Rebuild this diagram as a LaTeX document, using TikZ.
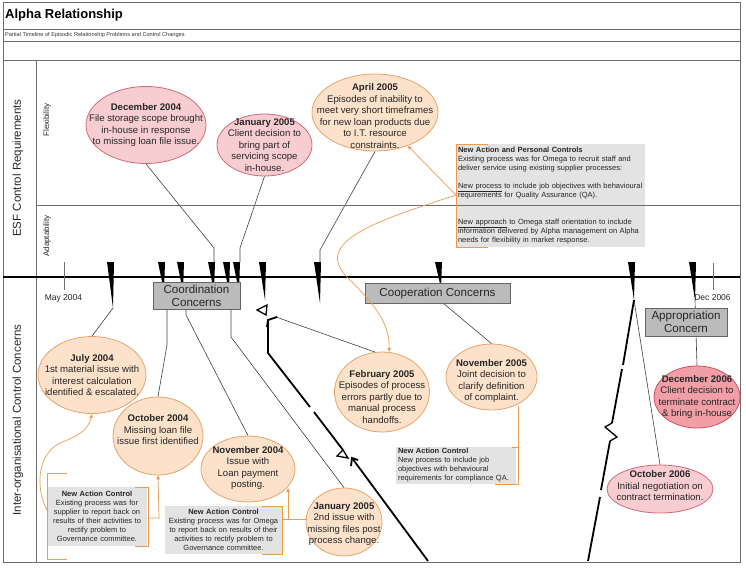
\documentclass[tikz,border=0pt]{standalone}
\usepackage{fontspec}
\setmainfont{Liberation Sans}
\usetikzlibrary{shapes.geometric,arrows.meta}
\definecolor{peachfill}{HTML}{FCE2CB}
\definecolor{peachline}{HTML}{E9A36A}
\definecolor{pinkfill}{HTML}{F7CDD1}
\definecolor{pinkline}{HTML}{D4687A}
\definecolor{redfill}{HTML}{F19EA7}
\definecolor{redline}{HTML}{CF4F62}
\definecolor{concgray}{HTML}{BBBBBB}
\definecolor{notegray}{HTML}{E3E3E3}
\definecolor{orangeln}{HTML}{EE9A4D}
\definecolor{framegray}{HTML}{6E6E6E}
\newcommand\wedgeat[3]{\fill (#1-4,262) -- (#1+3,262) -- (#1+2,#2) -- cycle; \coordinate (#3) at (#1+2,#2);}
\begin{document}
\begin{tikzpicture}[x=1pt,y=-1pt,
  ev/.style={ellipse,draw,line width=0.8pt,inner sep=0pt},
  peach/.style={ev,fill=peachfill,draw=peachline},
  pink/.style={ev,fill=pinkfill,draw=pinkline},
  red/.style={ev,fill=redfill,draw=redline},
  etext/.style={inner sep=0pt,align=center,font=\fontsize{9.6}{11.5}\selectfont,text=black!85},
  conc/.style={draw=black!60,line width=0.7pt,fill=concgray,inner sep=0pt,align=center,font=\fontsize{11.6}{13}\selectfont,text=black!85},
  note/.style={fill=notegray,inner xsep=2pt,inner ysep=0pt,font=\fontsize{7.5}{9}\selectfont,text=black!85},
  conn/.style={draw=black!75,line width=0.6pt},
  oconn/.style={draw=orangeln,line width=0.7pt},
  oarrow/.style={oconn,-{Triangle[length=4pt,width=3.5pt]}},
  brk/.style={line width=1.8pt,black},
  frame/.style={draw=framegray,line width=0.9pt},
  side/.style={rotate=90,inner sep=0pt,text=black!85},
]
\useasboundingbox (0,0) rectangle (746,568);
% frame and grid
\draw[frame] (3,2) rectangle (740,562);
\draw[frame] (3,29) -- (740,29);
\draw[frame] (3,41) -- (740,41);
\draw[frame] (3,60) -- (740,60);
\draw[frame] (36,60) -- (36,562);
\node[anchor=west,inner sep=0pt,font=\bfseries\fontsize{13}{15}\selectfont] (title) at (5,15) {Alpha Relationship};
\node[anchor=west,inner sep=0pt,font=\fontsize{5.6}{6}\selectfont,text=black!80] (subtitle) at (5,35) {Partial Timeline of Episodic Relationship Problems and Control Changes};
\node[side,font=\fontsize{11.5}{13}\selectfont] (esf) at (18,168) {ESF Control Requirements};
\node[side,font=\fontsize{11.5}{13}\selectfont] (ioc) at (18,420) {Inter-organisational Control Concerns};
\node[side,font=\fontsize{8}{9}\selectfont] (flex) at (47,120) {Flexibility};
\node[side,font=\fontsize{8}{9}\selectfont] (adap) at (47,236) {Adaptability};
% timeline
\draw[line width=1.8pt] (3,277) -- (740,277);
\draw[draw=black!55,line width=0.6pt] (64,262) -- (64,290);
\draw[draw=black!55,line width=0.6pt] (713,263) -- (713,290);
\node[inner sep=0pt,font=\fontsize{8.5}{10}\selectfont,text=black!85] (may) at (63.5,298) {May 2004};
\node[inner sep=0pt,font=\fontsize{8.5}{10}\selectfont,text=black!85] (dec) at (712.5,298) {Dec 2006};
% wedges
\wedgeat{111}{308}{w1}
\wedgeat{162}{292}{w2}
\wedgeat{181}{292}{w3}
\wedgeat{212}{292}{w4}
\wedgeat{227}{292}{w5}
\wedgeat{237}{292}{w6}
\wedgeat{263}{300}{w7}
\wedgeat{318}{303}{w8}
\wedgeat{439}{288}{w9}
\wedgeat{632}{300}{w10}
\wedgeat{693}{300}{w11}
% ellipses (shapes)
\node[pink,minimum width=120pt,minimum height=77pt] (e1) at (146,125) {};
\node[pink,minimum width=95pt,minimum height=62pt] (e2) at (264.5,145) {};
\node[peach,minimum width=126pt,minimum height=77pt] (e3) at (375,112.5) {};
\node[peach,minimum width=108pt,minimum height=77pt] (e4) at (92,375) {};
\node[peach,minimum width=90pt,minimum height=78pt] (e5) at (158,436) {};
\node[peach,minimum width=94pt,minimum height=66pt] (e6) at (248,469) {};
\node[peach,minimum width=76pt,minimum height=68pt] (e7) at (344,522) {};
\node[peach,minimum width=95pt,minimum height=80pt] (e8) at (382,392) {};
\node[peach,minimum width=91pt,minimum height=66pt] (e9) at (491.5,377) {};
\node[red,minimum width=86pt,minimum height=62pt] (e10) at (697,397) {};
\node[pink,minimum width=106pt,minimum height=48pt] (e11) at (660,489) {};
% thin connectors
\draw[conn] (e1.south) -- (214,248) -- (214,262);
\draw[conn] (e2.south) -- (240,248) -- (240,262);
\draw[conn] (e3.south) -- (320,250) -- (320,262);
\draw[conn] (w1) -- (e4.north);
\draw[conn] (167,309) -- (167,345) -- (e5.north);
\draw[conn] (186,309) -- (186,315) -- (e6.north);
\draw[conn] (231,309) -- (231,337) -- (e7.north);
\draw[conn] (276,317) -- (e8.100);
\draw[conn] (443,303) -- (e9.north);
\draw[conn] (w10) -- (e11.north);
\draw[conn] (w11) -- (e10.north);
% break lines
\draw[line width=1.3pt] (257,310) -- (267,305) -- (266,315) -- cycle;
\draw[brk] (267,327) -- (268,320) -- (277,317);
\draw[brk] (268,320) -- (268,353) -- (310,407);
\draw[brk] (314,412) -- (343,450);
\draw[line width=1.3pt] (343,450) -- (337,456) -- (348,458) -- cycle;
\draw[brk] (351,466) -- (352,458) -- (358,460);
\draw[brk] (352,458) -- (428,561);
\draw[brk] (634,300) -- (623,365);
\draw[brk] (622,369) -- (612,423);
\draw[line width=1.3pt] (612,423) -- (605,427) -- (611,432) -- (617,437) -- (610,441);
\draw[brk] (610,441) -- (601,490);
\draw[brk] (600,497) -- (588,561);
% ellipse texts
\node[etext] (e1t) at (e1) {\textbf{December 2004}\\File storage scope brought\\in-house in response\\to missing loan file issue.};
\node[etext] (e2t) at (e2) {\textbf{January 2005}\\Client decision to\\bring part of\\servicing scope\\in-house.};
\node[etext] (e3t) at (375,116) {\textbf{April 2005}\\Episodes of inability to\\meet very short timeframes\\for new loan products due\\to I.T. resource\\constraints.};
\node[etext] (e4t) at (e4) {\textbf{July 2004}\\1st material issue with\\interest calculation\\identified \& escalated.};
\node[etext] (e5t) at (158,430) {\textbf{October 2004}\\Missing loan file\\issue first identified};
\node[etext] (e6t) at (248,468) {\textbf{November 2004}\\Issue with\\Loan payment\\posting.};
\node[etext] (e7t) at (344,524) {\textbf{January 2005}\\2nd issue with\\missing files post\\process change.};
\node[etext] (e8t) at (382,397) {\textbf{February 2005}\\Episodes of process\\errors partly due to\\manual process\\handoffs.};
\node[etext] (e9t) at (491.5,381) {\textbf{November 2005}\\Joint decision to\\clarify definition\\of complaint.};
\node[etext] (e10t) at (e10) {\textbf{December 2006}\\Client decision to\\terminate contract\\\& bring in-house};
\node[etext] (e11t) at (660,486) {\textbf{October 2006}\\Initial negotiation on\\contract termination.};
% concern boxes
\node[conc,minimum width=87pt,minimum height=27pt] (c1) at (196.5,295.5) {Coordination\\Concerns};
\node[conc,minimum width=145pt,minimum height=20pt] (c2) at (437.5,293) {Cooperation Concerns};
\node[conc,minimum width=82pt,minimum height=28pt] (c3) at (686,322) {Appropriation\\Concern};
% notes
\node[note,align=left,text width=185pt,minimum height=103pt] (t1) at (550.5,195.5) {\textbf{New Action and Personal Controls}\\Existing process was for Omega to recruit staff and\\deliver service using existing supplier processes:\\[9pt]\underline{New process} to include job objectives with behavioural\\requirements for Quality Assurance (QA).\\[18pt]\underline{New approach} to Omega staff orientation to include\\information delivered by Alpha management on Alpha\\needs for flexibility in market response.};
\draw[frame] (36,205) -- (740,205);
\node[note,align=left,text width=116pt,minimum height=37pt] (t2) at (456,465.5) {\textbf{New Action Control}\\New process to include job\\objectives with behavioural\\requirements for compliance QA.};
\node[note,align=center,text width=96pt,minimum height=59pt] (t3) at (97,516.5) {\textbf{New Action Control}\\Existing process was for\\supplier to report back on\\results of their activities to\\rectify problem to\\Governance committee.};
\node[note,align=center,text width=113pt,minimum height=48pt] (t4) at (223.5,530) {\textbf{New Action Control}\\Existing process was for Omega\\to report back on results of their\\activities to rectify problem to\\Governance committee.};
% orange brackets and arrows
\draw[oconn] (488,144) -- (456,144) -- (456,247) -- (488,247);
\draw[oarrow] (456,195) -- (e3);
\draw[oarrow] (456,195) .. controls (380,220) and (315,240) .. (345,275) .. controls (370,300) and (390,320) .. (e8.80);
\draw[oconn] (518,406) -- (518,484) -- (495,484);
\draw[oconn] (512,447) -- (518,447);
\draw[oconn] (67,473) -- (47,473) -- (47,559) -- (67,559);
\draw[oconn] (135,487) -- (148,487) -- (148,546) -- (135,546);
\draw[oarrow] (148,518) -- (159,518) -- (e5.south);
\draw[oarrow] (47,510) .. controls (36,490) and (36,455) .. (60,443) .. controls (80,435) and (88,430) .. (e4.south);
\draw[oconn] (262,506) -- (282,506) -- (282,554) -- (262,554);
\draw[oconn] (282,519) -- (307,519);
\draw[oarrow] (288,519) -- (288,488);
\end{tikzpicture}
\end{document}
